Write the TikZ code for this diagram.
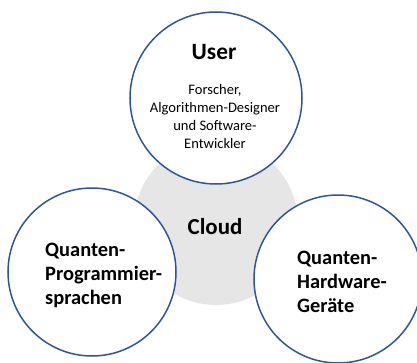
\documentclass[tikz,border=0pt]{standalone}
\usepackage{fontspec}
\setmainfont{Carlito}
\definecolor{ringblue}{RGB}{47,85,151}
\definecolor{cloudgray}{RGB}{230,230,230}
\begin{document}
\begin{tikzpicture}[x=1bp,y=-1bp,
  ring/.style={circle,draw=ringblue,fill=white,line width=1.5bp,inner sep=0pt,minimum size=#1},
  cloudbg/.style={circle,fill=cloudgray,inner sep=0pt,minimum size=#1},
  bigtext/.style={font=\bfseries\fontsize{20.5}{24}\selectfont,inner sep=0pt},
  smalltext/.style={font=\fontsize{14.6}{18}\selectfont,inner sep=0pt}]
\useasboundingbox (0,0) rectangle (417,363);
\node[cloudbg=164bp] (cloud) at (216,223) {};
\node[ring=172bp] (user) at (216,98) {};
\node[ring=168bp] (lang) at (92,272) {};
\node[ring=168bp] (hw) at (338,279) {};
\node[font=\bfseries\fontsize{23.5}{27}\selectfont,inner sep=0pt,anchor=base] (usertitle) at (214,59) {User};
\node[smalltext,align=center,anchor=base] (userdesc) at (215,148) {Forscher,\\Algorithmen-Designer\\und Software-\\Entwickler};
\node[font=\bfseries\fontsize{23}{27}\selectfont,inner sep=0pt,anchor=base] (cloudlabel) at (215,234) {Cloud};
\node[bigtext,align=left,anchor=base west] (langtext) at (45,304) {Quanten-\\Programmier-\\sprachen};
\node[bigtext,align=left,anchor=base west] (hwtext) at (297,312) {Quanten-\\Hardware-\\Geräte};
\end{tikzpicture}
\end{document}
